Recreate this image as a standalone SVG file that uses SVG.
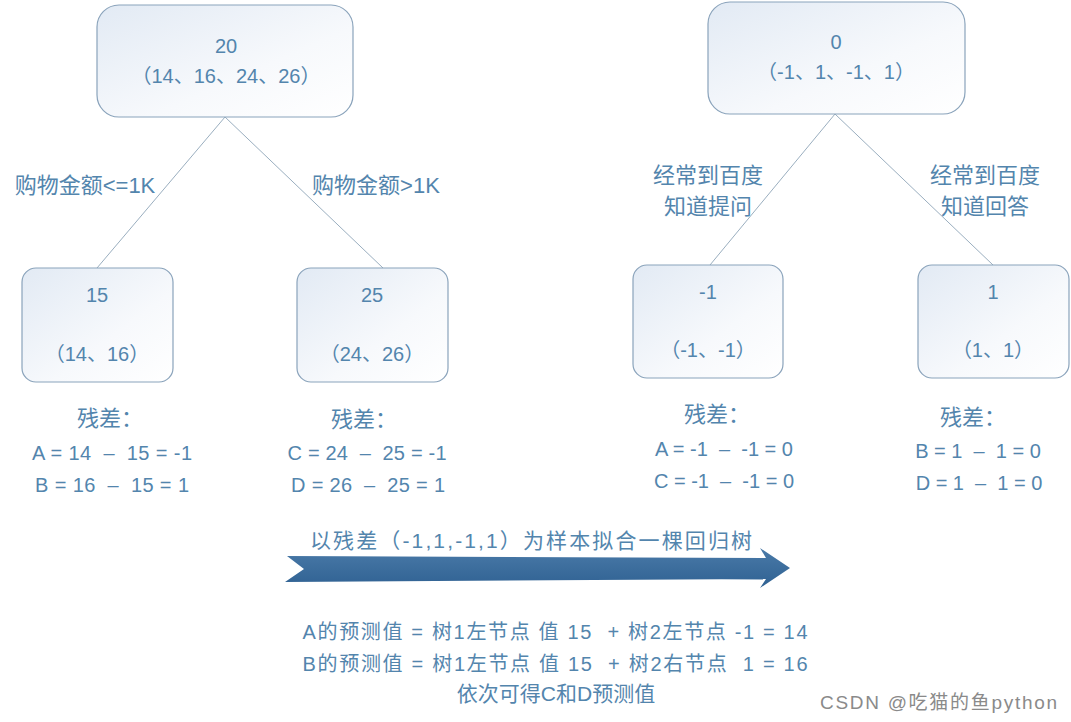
<svg xmlns="http://www.w3.org/2000/svg" width="1071" height="722" viewBox="0 0 1071 722">
<defs>
<linearGradient id="boxg" x1="0" y1="0" x2="1" y2="1">
<stop offset="0" stop-color="#e2eaf4"/>
<stop offset="0.6" stop-color="#f7f9fc"/>
<stop offset="1" stop-color="#ffffff"/>
</linearGradient>
<linearGradient id="arrg" x1="0" y1="0" x2="0" y2="1">
<stop offset="0" stop-color="#4a7aa8"/>
<stop offset="1" stop-color="#2f6192"/>
</linearGradient>
</defs>
<style>
.box{fill:url(#boxg);stroke:#8aa3bb;stroke-width:1.2}
.t{font-family:"Liberation Sans","Noto Sans CJK SC",sans-serif;fill:#5385ad;text-anchor:middle;white-space:pre}
.n{font-size:20px}
.l{font-size:22px}
.r{font-size:20px}
.edge{stroke:#9aaebf;stroke-width:1;fill:none}
.wm{font-family:"Liberation Sans","Noto Sans CJK SC",sans-serif;fill:#8a8a8a;font-size:19px}
</style>
<rect width="1071" height="722" fill="#ffffff"/>

<g id="connectors">
<line class="edge" x1="225" y1="117" x2="97" y2="268"/>
<line class="edge" x1="225" y1="117" x2="383" y2="268"/>
<line class="edge" x1="835" y1="114" x2="710" y2="265"/>
<line class="edge" x1="835" y1="114" x2="993" y2="265"/>
</g>

<g id="tree1-root">
<rect class="box" x="97" y="5" width="256" height="112" rx="22"/>
<text class="t n" x="226" y="53">20</text>
<text class="t n" x="226" y="83">（14、16、24、26）</text>
</g>
<g id="tree1-left">
<rect class="box" x="22" y="268" width="151" height="114" rx="14"/>
<text class="t n" x="97" y="302">15</text>
<text class="t n" x="97" y="361">（14、16）</text>
</g>
<g id="tree1-right">
<rect class="box" x="297" y="268" width="151" height="114" rx="14"/>
<text class="t n" x="372" y="302">25</text>
<text class="t n" x="372" y="361">（24、26）</text>
</g>
<g id="tree2-root">
<rect class="box" x="708" y="2" width="257" height="112" rx="22"/>
<text class="t n" x="836" y="49">0</text>
<text class="t n" x="836" y="79">（-1、1、-1、1）</text>
</g>
<g id="tree2-left">
<rect class="box" x="633" y="265" width="150" height="113" rx="14"/>
<text class="t n" x="708" y="299">-1</text>
<text class="t n" x="708" y="357">（-1、-1）</text>
</g>
<g id="tree2-right">
<rect class="box" x="918" y="265" width="151" height="113" rx="14"/>
<text class="t n" x="993" y="299">1</text>
<text class="t n" x="993" y="357">（1、1）</text>
</g>

<g id="edge-labels">
<text class="t l" x="85" y="193">购物金额&lt;=1K</text>
<text class="t l" x="376" y="193">购物金额&gt;1K</text>
<text class="t l" x="708" y="183">经常到百度</text>
<text class="t l" x="708" y="214">知道提问</text>
<text class="t l" x="985" y="183">经常到百度</text>
<text class="t l" x="985" y="214">知道回答</text>
</g>

<g id="residuals">
<text class="t l" x="110" y="426">残差：</text>
<text class="t r" x="112" y="460" textLength="160">A = 14  –  15 = -1</text>
<text class="t r" x="112" y="492" textLength="154">B = 16  –  15 = 1</text>
<text class="t l" x="364" y="427">残差：</text>
<text class="t r" x="367" y="460" textLength="159">C = 24  –  25 = -1</text>
<text class="t r" x="368" y="492" textLength="154">D = 26  –  25 = 1</text>
<text class="t l" x="717" y="422">残差：</text>
<text class="t r" x="724" y="456">A = -1  –  -1 = 0</text>
<text class="t r" x="724" y="488">C = -1  –  -1 = 0</text>
<text class="t l" x="973" y="425">残差：</text>
<text class="t r" x="978" y="458">B = 1  –  1 = 0</text>
<text class="t r" x="979" y="490">D = 1  –  1 = 0</text>
</g>

<g id="fit-arrow">
<text class="t" style="font-size:21px" x="531" y="548" textLength="442">以残差（-1,1,-1,1）为样本拟合一棵回归树</text>
<polygon points="287,556 766,558 760,548 790,568 760,588 766,579 285,582 304,569" fill="url(#arrg)"/>
</g>

<g id="prediction">
<text class="t n" x="555" y="639" textLength="505">A的预测值 = 树1左节点 值 15  + 树2左节点 -1 = 14</text>
<text class="t n" x="555" y="671" textLength="505">B的预测值 = 树1左节点 值 15  + 树2右节点  1 = 16</text>
<text class="t" style="font-size:21px" x="556" y="701">依次可得C和D预测值</text>
</g>

<text class="wm" x="820" y="709" textLength="237">CSDN @吃猫的鱼python</text>
</svg>
